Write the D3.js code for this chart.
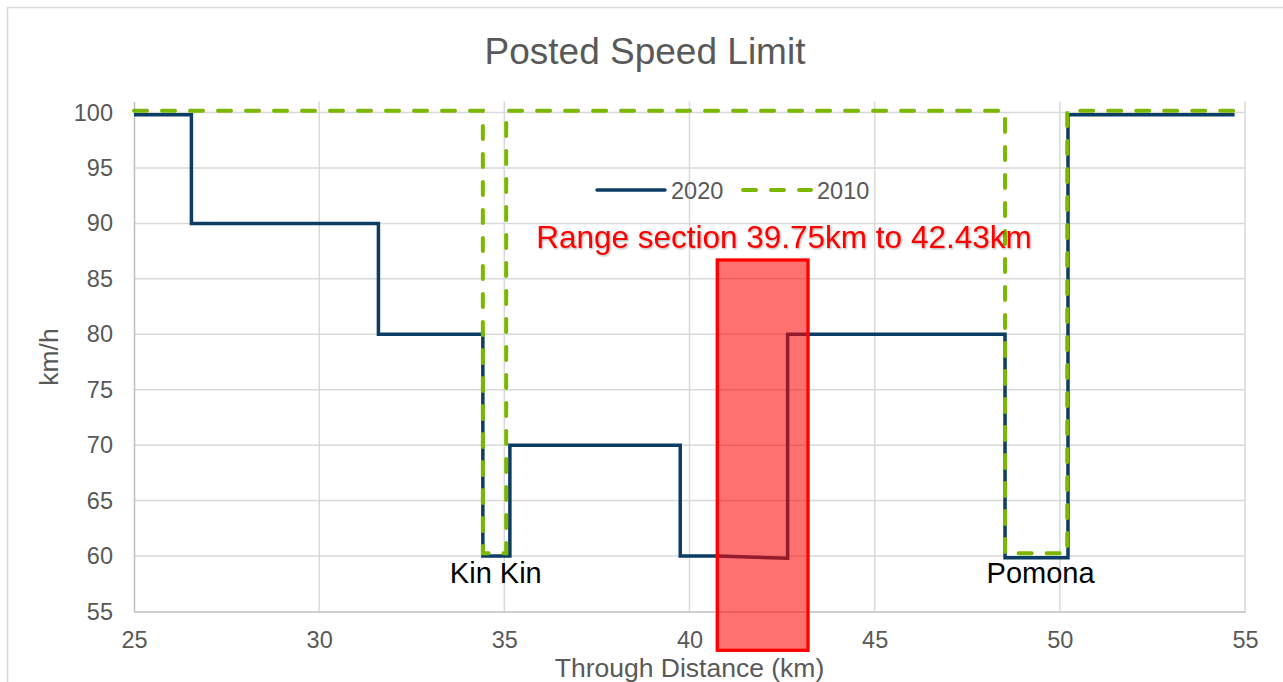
<!DOCTYPE html>
<html>
<head>
<meta charset="utf-8">
<script src="https://cdn.jsdelivr.net/npm/d3@7"></script>
<style>
  html, body { margin: 0; padding: 0; background: #fff; }
  svg { display: block; font-family: "Liberation Sans", Arial, sans-serif; }
</style>
</head>
<body>
<div id="chart"></div>
<script>
// Chart size
const width = 1283;
const height = 682;

// Series data (step lines, km vs km/h)
const dist2020 = [25, 26.55, 26.55, 31.6, 31.6, 34.42, 34.42, 35.15, 35.15, 39.75, 39.75, 40.75, 42.65, 42.65, 48.52, 48.52, 50.22, 50.22, 54.72];
const speed2020 = [99.8, 99.8, 90, 90, 80, 80, 60, 60, 70, 70, 60, 60, 59.8, 80, 80, 59.85, 59.85, 99.8, 99.8];

const dist2010 = [25, 34.42, 34.42, 35.05, 35.05, 48.52, 48.52, 50.2, 50.2, 54.72];
const speed2010 = [100.15, 100.15, 60.25, 60.25, 100.15, 100.15, 60.25, 60.25, 100.15, 100.15];

// Axis ticks
const xTicks = [25, 30, 35, 40, 45, 50, 55];
const yTicks = [55, 60, 65, 70, 75, 80, 85, 90, 95, 100];

// Highlighted section and town labels
const rangeSection = [40.75, 43.2];
const rangeSpeed = [51.5, 86.7];
const towns = ["Kin Kin", "Pomona"];
const townDist = [34.77, 49.48];

const svg = d3.select("#chart")
    .append("svg")
    .attr("width", width)
    .attr("height", height);

// Drop shadow for the annotation text
const defs = svg.append("defs");
const shadow = defs.append("filter").attr("id", "shadow")
    .attr("x", "-5%").attr("y", "-20%").attr("width", "110%").attr("height", "140%");
shadow.append("feDropShadow")
    .attr("dx", 1).attr("dy", 1).attr("stdDeviation", 0.8)
    .attr("flood-color", "#000").attr("flood-opacity", 0.35);

// Outer chart border
svg.append("rect")
    .attr("x", 7.5).attr("y", 7.5)
    .attr("width", width + 10).attr("height", height + 10)
    .attr("fill", "none")
    .attr("stroke", "#d9d9d9")
    .attr("stroke-width", 1.5);

// Scales
const x = d3.scaleLinear().domain([25, 55]).range([134, 1245]);
const y = d3.scaleLinear().domain([55, 101]).range([611.5, 101.4]);

// Gridlines
svg.append("g")
    .selectAll("line.h")
    .data(yTicks.slice(1))
    .join("line")
    .attr("x1", x(25)).attr("x2", x(55))
    .attr("y1", d => y(d)).attr("y2", d => y(d))
    .attr("stroke", "#d9d9d9").attr("stroke-width", 1.5);

svg.append("g")
    .selectAll("line.v")
    .data(xTicks.slice(1))
    .join("line")
    .attr("x1", d => x(d)).attr("x2", d => x(d))
    .attr("y1", y(55)).attr("y2", y(101))
    .attr("stroke", "#d9d9d9").attr("stroke-width", 1.5);

// Axes
const xAxis = svg.append("g")
    .attr("transform", `translate(0, ${y(55)})`)
    .call(d3.axisBottom(x).tickValues(xTicks).tickSize(0).tickPadding(20).tickFormat(d3.format("d")));
const yAxis = svg.append("g")
    .attr("transform", `translate(${x(25)}, 0)`)
    .call(d3.axisLeft(y).tickValues(yTicks).tickSize(0).tickPadding(21).tickFormat(d3.format("d")));

[xAxis, yAxis].forEach(g => {
    g.select(".domain").attr("stroke", "#bfbfbf").attr("stroke-width", 1.5);
    g.selectAll("text")
        .attr("fill", "#595959")
        .style("font-size", "23.5px")
        .style("font-family", "Liberation Sans, Arial, sans-serif");
});

// Lines
const line = d3.line().x(d => x(d[0])).y(d => y(d[1]));

svg.append("path")
    .datum(d3.zip(dist2020, speed2020))
    .attr("d", line)
    .attr("fill", "none")
    .attr("stroke", "#0c3d64")
    .attr("stroke-width", 3.5)
    .attr("stroke-linejoin", "miter");

svg.append("path")
    .datum(d3.zip(dist2010, speed2010))
    .attr("d", line)
    .attr("fill", "none")
    .attr("stroke", "#7cb800")
    .attr("stroke-width", 4)
    .attr("stroke-dasharray", "13,15")
    .attr("stroke-linecap", "round");

// Highlighted range rectangle
svg.append("rect")
    .attr("x", x(rangeSection[0]))
    .attr("y", y(rangeSpeed[1]))
    .attr("width", x(rangeSection[1]) - x(rangeSection[0]))
    .attr("height", y(rangeSpeed[0]) - y(rangeSpeed[1]))
    .attr("fill", "rgba(255, 0, 0, 0.56)")
    .attr("stroke", "#ff0000")
    .attr("stroke-width", 3.3);

svg.append("text")
    .attr("x", x(42.55))
    .attr("y", y(87.78))
    .attr("text-anchor", "middle")
    .attr("fill", "#ff0000")
    .attr("filter", "url(#shadow)")
    .style("font-size", "31.5px")
    .text("Range section 39.75km to 42.43km");

// Town labels
svg.append("g")
    .selectAll("text")
    .data(towns)
    .join("text")
    .attr("x", (d, i) => x(townDist[i]))
    .attr("y", 583)
    .attr("text-anchor", "middle")
    .attr("fill", "#000")
    .style("font-size", "29px")
    .text(d => d);

// Title
svg.append("text")
    .attr("x", 645)
    .attr("y", 64)
    .attr("text-anchor", "middle")
    .attr("fill", "#595959")
    .style("font-size", "37px")
    .text("Posted Speed Limit");

// Axis titles
svg.append("text")
    .attr("x", (x(25) + x(55)) / 2)
    .attr("y", 677)
    .attr("text-anchor", "middle")
    .attr("fill", "#595959")
    .style("font-size", "26.5px")
    .text("Through Distance (km)");

svg.append("text")
    .attr("transform", `translate(58, 357) rotate(-90)`)
    .attr("text-anchor", "middle")
    .attr("fill", "#595959")
    .style("font-size", "26.5px")
    .text("km/h");

// Legend
const legendItems = [
    { name: "2020", color: "#0c3d64", dash: null, width: 3.5, x: 597 },
    { name: "2010", color: "#7cb800", dash: "13,15", width: 4, x: 743 }
];

const legend = svg.append("g");
legendItems.forEach(item => {
    legend.append("line")
        .attr("x1", item.x).attr("x2", item.x + 68)
        .attr("y1", 190).attr("y2", 190)
        .attr("stroke", item.color)
        .attr("stroke-width", item.width)
        .attr("stroke-dasharray", item.dash)
        .attr("stroke-linecap", "round");
    legend.append("text")
        .attr("x", item.x + 74)
        .attr("y", 199)
        .attr("fill", "#595959")
        .style("font-size", "23.5px")
        .text(item.name);
});
</script>
</body>
</html>
